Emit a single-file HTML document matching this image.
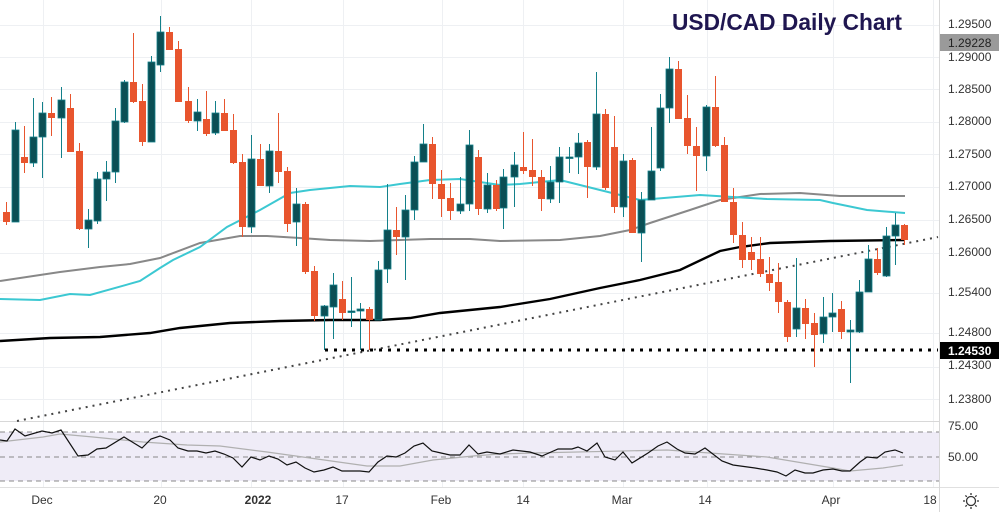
<!DOCTYPE html>
<html><head><meta charset="utf-8"><style>
html,body{margin:0;padding:0;background:#fff;}
svg{display:block;font-family:"Liberation Sans",sans-serif;}
</style></head><body>
<svg id="s" width="999" height="512" viewBox="0 0 999 512" xmlns="http://www.w3.org/2000/svg">
<rect width="999" height="512" fill="#fff"/>
<g id="grid" stroke="#eef0f3" stroke-width="1"></g>
<rect x="0" y="432" width="939" height="49" fill="#efecf7"/>
<g stroke="#888" stroke-width="1" stroke-dasharray="5,4">
<line x1="0" y1="432" x2="939" y2="432"/><line x1="0" y1="457" x2="939" y2="457"/><line x1="0" y1="481" x2="939" y2="481"/>
</g>
<line x1="0" y1="421.5" x2="939" y2="421.5" stroke="#d8d8d8"/>
<line x1="0" y1="487.5" x2="999" y2="487.5" stroke="#e0e0e0"/>
<line x1="939.5" y1="0" x2="939.5" y2="512" stroke="#d8d8d8"/>
<polyline fill="none" stroke="#b0b0b0" stroke-width="1.2" points="0,442 43,437 60,434 93,437 143,442 187,445 220,446 267,452 310,458 367,466 400,466 433,460 473,456 500,454 533,453 667,450 767,457 833,468 850,471 883,468 903,465"/>
<polyline fill="none" stroke="#111" stroke-width="1.2" points="0,440 7,441 15,429 25,436 42,431 52,433 61,430 78,456 88,455 97,449 106,448 124,437 142,448 151,439 160,436 170,440 178,448 188,451 197,451 206,453 215,451 224,454 233,458 242,467 251,457 260,460 269,456 278,459 287,465 296,462 305,468 314,472 324,470 333,467 342,471 360,471 369,472 378,462 387,456 396,457 405,453 414,446 423,443 432,451 441,453 450,455 460,455 469,445 478,454 487,452 500,454 513,450 530,452 542,456 558,449 572,449 578,447 587,451 597,443 605,457 615,460 623,452 632,463 648,453 658,446 667,442 677,449 685,453 695,454 705,448 722,461 733,465 755,468 767,470 777,472 786,476 795,470 805,473 813,473 823,470 833,469 842,471 850,471 860,462 867,457 877,458 885,452 895,450 903,453"/>
<line x1="17" y1="421" x2="938" y2="237" stroke="#444" stroke-width="2" stroke-dasharray="2,5"/>
<line x1="325" y1="350" x2="938" y2="350" stroke="#000" stroke-width="3" stroke-dasharray="3,6"/>
<polyline fill="none" stroke="#888" stroke-width="2" points="0,281 60,272 100,267 130,264 160,258 200,243 240,236 267,236 300,238 330,240 370,241 400,240 430,239 470,239 500,241 560,240 600,236 630,230 650,223 690,210 720,200 760,194 800,193 840,196 905,196"/>
<polyline fill="none" stroke="#3cc8d2" stroke-width="2" points="0,299 40,300 70,294 90,295 140,281 160,268 173,260 200,247 227,227 260,210 290,193 310,190 350,186 380,187 400,184 430,180 460,179 500,185 520,184 560,180 600,190 640,200 700,195 733,197 767,199 820,200 833,203 867,210 905,213"/>
<polyline fill="none" stroke="#000" stroke-width="2.4" points="0,341 50,338 100,337 150,333 180,328 230,323 280,321 330,320 380,320 410,318 440,313 500,307 550,299 600,288 640,280 680,270 720,251 740,247 770,243 830,241 905,240"/>
<g id="c"></g>
<g font-size="12" fill="#333">
<text x="948" y="28">1.29500</text>
<text x="948" y="61">1.29000</text>
<text x="948" y="93">1.28500</text>
<text x="948" y="125">1.28000</text>
<text x="948" y="158">1.27500</text>
<text x="948" y="190">1.27000</text>
<text x="948" y="223">1.26500</text>
<text x="948" y="256">1.26000</text>
<text x="948" y="296">1.25400</text>
<text x="948" y="336">1.24800</text>
<text x="948" y="369">1.24300</text>
<text x="948" y="403">1.23800</text>
<text x="948" y="430">75.00</text>
<text x="948" y="461">50.00</text>
</g>
<rect x="940" y="34" width="59" height="17" fill="#9a9a9a"/>
<text x="948" y="47" font-size="12" fill="#222">1.29228</text>
<rect x="940" y="342" width="59" height="17" fill="#000"/>
<text x="948" y="355" font-size="12" font-weight="bold" fill="#fff">1.24530</text>
<g font-size="12" fill="#333" text-anchor="middle">
<text x="42" y="504">Dec</text><text x="160" y="504">20</text><text x="258" y="504" font-weight="bold">2022</text>
<text x="342" y="504">17</text><text x="441" y="504">Feb</text><text x="523" y="504">14</text>
<text x="622" y="504">Mar</text><text x="705" y="504">14</text><text x="831" y="504">Apr</text><text x="930" y="504">18</text>
</g>
<g transform="translate(971,501)" stroke="#333" stroke-width="1.3" fill="none"><circle r="4.5"/><path d="M0,-8V-6M0,6V8M-8,0H-6M6,0H8M-5.6,-5.6L-4.2,-4.2M4.2,4.2L5.6,5.6M-5.6,5.6L-4.2,4.2M4.2,-4.2L5.6,-5.6"/></g>
<text x="672" y="30" font-size="23" font-weight="bold" fill="#1f1650" textLength="230" lengthAdjust="spacingAndGlyphs">USD/CAD Daily Chart</text>
</svg>
<script>
var ns="http://www.w3.org/2000/svg";
var g=document.getElementById("grid");
[43,161,251,343,442,523,623,707,833,933].forEach(function(x){var l=document.createElementNS(ns,"line");l.setAttribute("x1",x+.5);l.setAttribute("x2",x+.5);l.setAttribute("y1",0);l.setAttribute("y2",487);g.appendChild(l);});
[25,57,89,122,154,187,220,253,293,333,367,399].forEach(function(y){var l=document.createElementNS(ns,"line");l.setAttribute("y1",y+.5);l.setAttribute("y2",y+.5);l.setAttribute("x1",0);l.setAttribute("x2",939);g.appendChild(l);});
// x, bodyTop, bodyBot, wickTop, wickBot, bull(1)/bear(0)
var d=[
[6,212,222,202,225,0],[15,130,222,122,222,1],[24,157,163,126,173,0],[33,137,163,98,167,1],[42,113,137,102,178,1],[51,113,118,97,136,0],[61,100,118,87,158,1],[70,108,152,94,152,0],[79,151,229,143,230,0],[88,220,229,209,248,1],[97,179,221,172,224,1],[106,172,179,161,201,1],[115,121,172,108,183,1],[124,82,122,80,123,1],[133,82,102,33,103,0],[142,101,142,84,146,0],[151,62,142,56,142,1],[160,32,65,16,72,1],[169,32,50,27,50,0],[178,49,102,41,102,0],[188,101,121,87,123,0],[197,112,121,99,131,1],[206,119,134,91,136,0],[215,113,133,101,135,1],[224,113,131,99,131,0],[233,130,163,114,164,0],[242,162,227,154,237,0],[251,159,227,135,233,1],[260,159,186,144,186,0],[269,151,186,144,193,1],[278,151,172,113,183,0],[287,171,224,167,232,0],[296,204,222,188,246,1],[305,204,272,202,274,0],[314,271,316,266,321,0],[324,306,316,305,350,1],[333,285,307,273,339,1],[342,299,313,281,320,0],[351,311,312,277,327,1],[360,309,311,303,350,1],[369,309,320,307,350,0],[378,270,320,261,320,1],[387,230,269,184,283,1],[396,230,237,207,255,0],[405,210,237,195,280,1],[414,162,210,156,220,1],[423,144,162,124,162,1],[432,144,184,137,199,0],[441,184,199,170,217,0],[450,198,211,183,220,0],[460,204,211,177,214,1],[469,145,204,130,211,1],[478,157,209,150,215,0],[487,185,209,173,213,1],[496,185,209,180,211,0],
[503,177,208,169,229,1],[514,165,177,152,207,1],[523,167,171,132,174,0],[532,170,177,139,186,0],[541,177,199,170,211,0],[550,182,199,166,203,1],[559,157,182,147,203,1],[569,157,158,147,173,1],[578,143,157,133,174,1],[587,142,167,140,198,0],[596,114,167,72,170,1],[605,114,188,109,190,0],[614,147,207,116,213,0],[623,161,207,154,217,1],[632,160,233,158,233,0],[641,200,233,192,262,1],[651,171,200,127,200,1],[660,108,168,94,171,1],[669,69,108,57,123,1],[678,69,119,61,119,0],[687,118,146,95,154,0],[696,146,156,127,191,0],[706,107,156,105,171,1],[715,107,146,76,147,0],[724,145,202,137,202,0],[733,202,235,188,243,0],[742,235,260,222,268,0],[751,252,260,237,270,0],[760,259,274,237,277,0],[769,274,283,257,291,0],[778,282,302,263,313,0],[787,302,337,300,342,0],[796,308,329,258,337,1],[805,308,324,299,339,0],[814,323,335,313,367,0],[823,317,334,297,343,1],[832,313,317,293,332,1],[841,309,332,301,339,0],[850,330,332,320,383,1],[859,292,332,280,333,1],[868,259,292,245,292,1],[877,259,273,248,275,0],[886,236,276,227,277,1],[895,225,236,213,265,1],[904,225,240,224,245,0]];
var c=document.getElementById("c");
d.forEach(function(k){var col=k[5]?"#0b4f55":"#e8552e";var w=document.createElementNS(ns,"line");w.setAttribute("x1",k[0]+.5);w.setAttribute("x2",k[0]+.5);w.setAttribute("y1",k[3]);w.setAttribute("y2",k[4]);w.setAttribute("stroke",k[5]?"#13808a":"#e8552e");w.setAttribute("stroke-width",1);c.appendChild(w);
var r=document.createElementNS(ns,"rect");r.setAttribute("x",k[0]-3);r.setAttribute("width",7);r.setAttribute("y",k[1]);r.setAttribute("height",Math.max(1.5,k[2]-k[1]));r.setAttribute("fill",col);if(k[5]){r.setAttribute("stroke","#13808a");r.setAttribute("stroke-width",0.8);}c.appendChild(r);});
</script>
</body></html>
